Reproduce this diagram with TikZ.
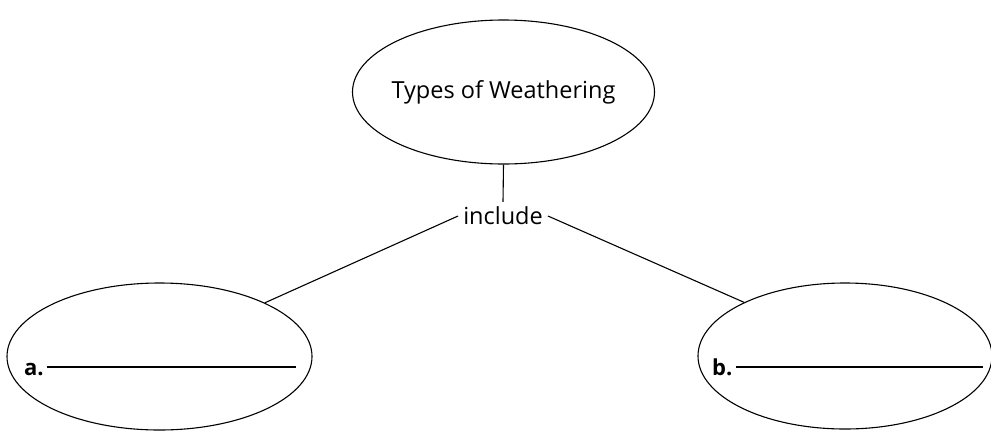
\documentclass[tikz,border=0pt]{standalone}
\usepackage{fontspec}
\setmainfont{Open Sans}
\usetikzlibrary{shapes.geometric}
\begin{document}
\begin{tikzpicture}[x=1pt,y=-1pt,
  oval/.style={draw, ellipse, line width=1.1pt, inner sep=0pt},
  lbl/.style={font=\fontsize{23.5}{28}\selectfont, inner sep=0pt},
  ltr/.style={font=\fontsize{22}{26}\selectfont\bfseries, inner sep=0pt, anchor=base west},
  conn/.style={line width=1.1pt},
  blank/.style={line width=1.1pt}]
\useasboundingbox (0,0) rectangle (991,440);
% top ellipse
\node[oval, minimum width=302pt, minimum height=144pt] (top) at (503.5,92) {};
\node[lbl] (toptext) at (503.5,92) {Types of Weathering};
% include
\node[lbl, inner sep=5pt] (inc) at (503,216) {include};
% bottom ellipses
\node[oval, minimum width=305pt, minimum height=147pt] (la) at (159.5,356.5) {};
\node[oval, minimum width=294pt, minimum height=146pt] (rb) at (845,356) {};
% labels and blanks
\node[ltr] (alab) at (24,375) {a.};
\coordinate (aend) at (296,367);
\draw[blank] (alab.base east |- aend) ++(3,0) coordinate (astart) -- (aend);
\node[ltr] (blab) at (712,375) {b.};
\coordinate (bend) at (983,367);
\draw[blank] (blab.base east |- bend) ++(3,0) coordinate (bstart) -- (bend);
% connectors
\draw[conn] (top.south) -- (inc.north);
\draw[conn] (inc.west) -- (la.27);
\draw[conn] (inc.east) -- (rb.152);
\end{tikzpicture}
\end{document}
